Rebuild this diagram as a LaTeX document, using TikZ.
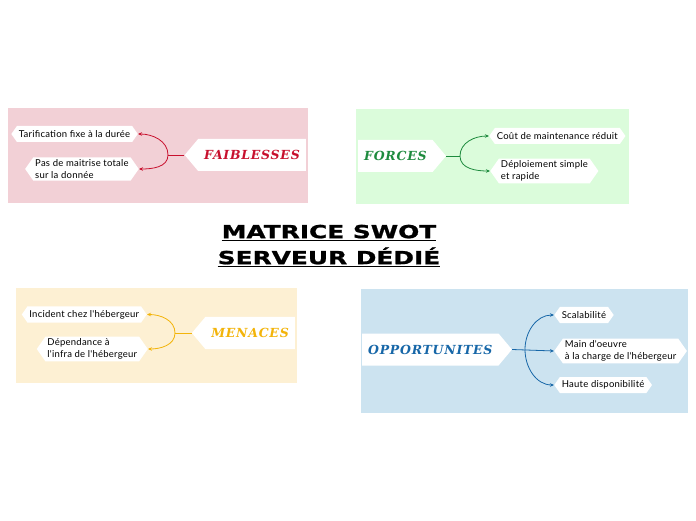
\documentclass[tikz,border=0pt]{standalone}
\usepackage{fontspec}
\usetikzlibrary{arrows.meta,shapes.symbols}
\newfontfamily\leaffont[LetterSpace=2.5]{Lato}
\newfontfamily\labelfont[LetterSpace=6]{DejaVu Serif}
\newfontfamily\titlefont[FakeStretch=1.38,BoldFeatures={FakeBold=1.2}]{DejaVu Sans}
\newcommand{\thickul}[1]{\leavevmode\vtop{\hbox{#1}\kern1.2pt\hrule height 1.6pt}}
\definecolor{faiback}{HTML}{F2D0D6}
\definecolor{forback}{HTML}{DBFCDB}
\definecolor{menback}{HTML}{FDF0D3}
\definecolor{oppback}{HTML}{CCE3F0}
\definecolor{faicol}{HTML}{C8102E}
\definecolor{forcol}{HTML}{1E8B3E}
\definecolor{mencol}{HTML}{F3B40A}
\definecolor{oppcol}{HTML}{1767A8}
\tikzset{
 mainbox/.style={shape=signal,fill=white,minimum height=32pt,inner xsep=6pt,
             signal pointer angle=100,
             font=\labelfont\bfseries\itshape\fontsize{12.5}{14}\selectfont},
 leaf/.style={shape=signal,signal to=west and east,fill=white,align=left,
             minimum height=16pt,inner xsep=2pt,inner ysep=2pt,
             signal pointer angle=110,
             font=\leaffont\fontsize{9.5}{12}\selectfont},
 link/.style={-{Stealth[length=4pt,width=3.5pt]},line width=0.8pt}
}
\begin{document}
\begin{tikzpicture}[x=1pt,y=1pt]
\useasboundingbox (0,0) rectangle (696,520);
% quadrants
\fill[faiback] (8,317) rectangle (308,412);
\fill[forback] (356,316) rectangle (629,411);
\fill[menback] (16,137) rectangle (297,232);
\fill[oppback] (361,107) rectangle (688,231);
% title
\node[align=center,font=\titlefont\bfseries\fontsize{18}{26}\selectfont] (title) at (329,274)
  {\thickul{MATRICE SWOT}\\\thickul{SERVEUR DÉDIÉ}};
% faiblesses
\node[mainbox,signal to=west,anchor=east,text=faicol] (fai) at (306,365) {FAIBLESSES};
\node[leaf,anchor=east] (fai1) at (138,386) {Tarification fixe à la durée};
\node[leaf,anchor=east] (fai2) at (139,351) {Pas de maitrise totale\\sur la donnée};
\coordinate (faib) at (168,365);
\draw[faicol,line width=0.8pt] (fai.west)--(faib);
\draw[link,faicol] (faib) to[out=90,in=0] (fai1.east);
\draw[link,faicol] (faib) to[out=-90,in=0] (fai2.east);
% forces
\node[mainbox,signal to=east,anchor=west,text=forcol] (for) at (358,364) {FORCES};
\node[leaf,anchor=west] (for1) at (489,384) {Coût de maintenance réduit};
\node[leaf,anchor=west] (for2) at (490,349) {Déploiement simple\\et rapide};
\coordinate (forb) at (460,364);
\draw[forcol,line width=0.8pt] (for.east)--(forb);
\draw[link,forcol] (forb) to[out=90,in=180] (for1.west);
\draw[link,forcol] (forb) to[out=-90,in=180] (for2.west);
% menaces
\node[mainbox,signal to=west,anchor=east,text=mencol] (men) at (295,187) {MENACES};
\node[leaf,anchor=east] (men1) at (147,205.5) {Incident chez l'hébergeur};
\node[leaf,anchor=east] (men2) at (148,171) {Dépendance à\\l'infra de l'hébergeur};
\coordinate (menb) at (175,187);
\draw[mencol,line width=0.8pt] (men.west)--(menb);
\draw[link,mencol] (menb) to[out=90,in=0] (men1.east);
\draw[link,mencol] (menb) to[out=-90,in=0] (men2.east);
% opportunites
\node[mainbox,signal to=east,anchor=west,text=oppcol] (opp) at (362,170.5) {OPPORTUNITES};
\node[leaf,anchor=west] (opp1) at (554,205) {Scalabilité};
\node[leaf,anchor=west] (opp2) at (554,169) {Main d'oeuvre\\à la charge de l'hébergeur};
\node[leaf,anchor=west] (opp3) at (554,135) {Haute disponibilité};
\coordinate (oppb) at (525,170.5);
\draw[link,oppcol] (opp.east)--(opp2.west);
\draw[link,oppcol] (oppb) to[out=90,in=180] (opp1.west);
\draw[link,oppcol] (oppb) to[out=-90,in=180] (opp3.west);
\end{tikzpicture}
\end{document}
